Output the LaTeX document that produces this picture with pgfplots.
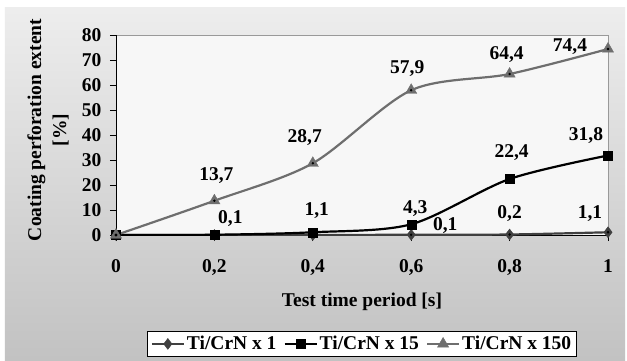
\documentclass[border=0pt]{standalone}
\usepackage{fontspec}
\setmainfont{Liberation Serif}
\usepackage{pgfplots}
\usepackage{pgfplotstable}
\pgfplotsset{compat=1.18}
\definecolor{cone}{HTML}{404040}
\definecolor{cfif}{HTML}{000000}
\definecolor{chun}{HTML}{6E6E6E}
\newcommand{\lbl}{\fontsize{19.5}{25}\selectfont\bfseries}

\pgfplotstableread{
x y lab dx dy
0 0 {} 0 0
0.2 0 {} 0 0
0.4 0 {} 0 0
0.6 0.1 0,1 34 9
0.8 0.2 0,2 0 21
1 1.1 1,1 -18 19
}\tone
\pgfplotstableread{
x y lab dx dy
0 0 {} 0 0
0.2 0.1 0,1 16 16
0.4 1.1 1,1 4 22
0.6 4.3 4,3 4 16
0.8 22.4 22,4 2 26
1 31.8 31,8 -22 20
}\tfif
\pgfplotstableread{
x y lab dx dy
0 0 {} 0 0
0.2 13.7 13,7 2 25
0.4 28.7 28,7 -8 26
0.6 57.9 57,9 -4 22
0.8 64.4 64,4 -3 19
1 74.4 74,4 -38 2
}\thun

\pgfplotsset{
  lblplot/.style={forget plot, only marks, mark=*, mark size=1pt,
    mark options={draw=none, fill=none},
    nodes near coords,
    point meta=explicit symbolic,
    visualization depends on={\thisrow{dx}\as\dx},
    visualization depends on={\thisrow{dy}\as\dy},
    every node near coord/.append style={anchor=center, xshift=\dx pt, yshift=\dy pt, font=\lbl, text=black}},
}

\begin{document}
\begin{tikzpicture}
\useasboundingbox (-116pt,-126pt) rectangle (511pt,235pt);
\fill[white] (-116pt,-126pt) rectangle (511pt,235pt);
\clip (-116pt,-126pt) rectangle (511pt,235pt);
\shade[top color=black!7, bottom color=black!24] (-111pt,-126pt) rectangle (509pt,227pt);
\begin{axis}[
  scale only axis, width=492pt, height=200pt,
  xmin=0, xmax=1, ymin=0, ymax=80,
  xtick={0,0.2,0.4,0.6,0.8,1}, ytick={0,10,20,30,40,50,60,70,80},
  axis x line*=bottom, axis y line*=left,
  axis line style={black, line width=0.8pt, -},
  axis background/.style={fill=black!3, draw=black!40, line width=0.8pt},
  tick align=outside, major tick length=6pt,
  tick style={black, line width=0.8pt},
  tick label style={font=\lbl},
  xticklabel style={yshift=-15pt},
  yticklabel style={xshift=-5pt},
  /pgf/number format/assume math mode=true,
  /pgf/number format/use comma,
  /pgf/number format/1000 sep={},
  xlabel={Test time period [s]},
  ylabel={Coating perforation extent\\{[\%]}},
  every axis x label/.style={at={(axis description cs:0.5,-0.335)}, anchor=center, font=\lbl},
  every axis y label/.style={at={(axis description cs:-0.138,0.525)}, anchor=center, rotate=90, align=center, font=\lbl},
  legend style={at={(axis description cs:0.5,-0.48)}, anchor=north, draw=black, line width=0.8pt, fill=white, font=\lbl, inner xsep=3pt, inner ysep=3pt,
    /tikz/every even column/.append style={column sep=5pt}},
  legend columns=3,
  legend image code/.code={\draw[mark repeat=2,mark phase=2] plot coordinates {(0pt,0pt)(16pt,0pt)(32pt,0pt)};},
]
\addplot[cone, line width=2.2pt, smooth, mark=diamond*, mark size=5.5pt, mark options={fill=cone, draw=cone, line width=0.4pt}] table[x=x, y=y] {\tone};
\addlegendentry{Ti/CrN x 1}
\addplot[cfif, line width=2.2pt, smooth, mark=square*, mark size=4.5pt, mark options={fill=cfif, draw=cfif, line width=0.4pt}] table[x=x, y=y] {\tfif};
\addlegendentry{Ti/CrN x 15}
\addplot[chun, line width=2.2pt, smooth, mark=triangle*, mark size=6.5pt, mark options={fill=chun, draw=chun, line width=0.4pt}] table[x=x, y=y] {\thun};
\addlegendentry{Ti/CrN x 150}
\addplot[lblplot] table[x=x, y=y, meta=lab] {\tone};
\addplot[lblplot] table[x=x, y=y, meta=lab] {\tfif};
\addplot[lblplot] table[x=x, y=y, meta=lab] {\thun};
\end{axis}
\end{tikzpicture}
\end{document}
